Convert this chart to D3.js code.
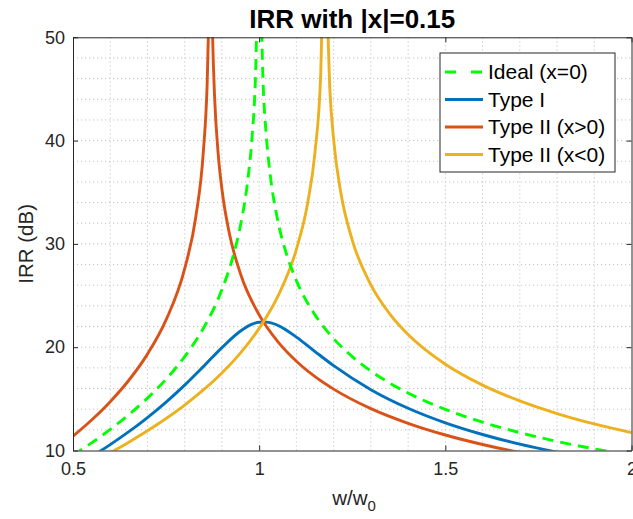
<!DOCTYPE html>
<html lang="en">
<head>
<meta charset="UTF-8">
<script src="https://cdn.jsdelivr.net/npm/d3@7"></script>
<title>IRR</title>
<style>
    body { margin: 0; background: #fff; }
    svg { font-family: "Liberation Sans", Arial, Helvetica, sans-serif; }
    .grid line { stroke: #c4c4c4; stroke-dasharray: 1.2, 2.8; stroke-width: 1; }
    .axis path, .axis line { stroke: #262626; }
    .axis text { fill: #262626; font-size: 18px; }
</style>
</head>
<body>
<script>
    // values (w/w0 -> IRR in dB)
    var wIdeal = [0.5, 0.55, 0.6, 0.65, 0.7, 0.75, 0.8, 0.85, 0.9, 0.93, 0.95, 0.97, 0.98, 0.99, 0.995,
        1.005, 1.01, 1.02, 1.03, 1.05, 1.07, 1.1, 1.15, 1.2, 1.25, 1.3, 1.35, 1.4, 1.5, 1.6, 1.7, 1.8, 1.9, 2.0];
    var irrIdeal = [9.54, 10.74, 12.04, 13.47, 15.07, 16.90, 19.09, 21.82, 25.58, 28.81, 31.82, 36.35, 39.91, 45.98, 52.02,
        52.06, 46.06, 40.09, 36.61, 32.26, 29.42, 26.44, 23.13, 20.83, 19.09, 17.69, 16.54, 15.56, 13.98, 12.74, 11.73, 10.88, 10.16, 9.54];

    var wType1 = [0.5, 0.55, 0.6, 0.65, 0.7, 0.75, 0.8, 0.85, 0.9, 0.95, 0.98, 1.0, 1.02, 1.05, 1.1, 1.15, 1.2, 1.3, 1.4, 1.5, 1.6, 1.7, 1.8];
    var irrType1 = [8.34, 9.42, 10.57, 11.82, 13.19, 14.69, 16.33, 18.12, 19.96, 21.57, 22.21, 22.42, 22.43, 22.12, 20.98, 19.58, 18.21, 15.89, 14.09, 12.68, 11.55, 10.61, 9.83];

    var wPos = [0.5, 0.55, 0.6, 0.65, 0.7, 0.75, 0.8, 0.83, 0.85, 0.86, 0.865,
        0.873, 0.875, 0.88, 0.89, 0.9, 0.92, 0.95, 1.0, 1.05, 1.1, 1.15, 1.2, 1.3, 1.4, 1.5, 1.6, 1.7, 1.8, 1.9, 2.0];
    var irrPos = [11.38, 12.95, 14.73, 16.80, 19.33, 22.64, 27.60, 32.66, 38.88, 45.15, 51.60,
        54.11, 50.13, 44.49, 38.70, 35.29, 31.00, 27.09, 23.13, 20.54, 18.64, 17.15, 15.94, 14.05, 12.63, 11.50, 10.58, 9.81, 9.16, 8.59, 8.09];

    var wNeg = [0.5, 0.55, 0.6, 0.65, 0.7, 0.75, 0.8, 0.85, 0.9, 0.95, 1.0, 1.05, 1.1, 1.13, 1.15, 1.165, 1.172,
        1.182, 1.19, 1.2, 1.22, 1.25, 1.3, 1.35, 1.4, 1.5, 1.6, 1.7, 1.8, 1.9, 2.0];
    var irrNeg = [7.88, 8.81, 9.78, 10.81, 11.91, 13.10, 14.40, 15.86, 17.51, 19.45, 21.82, 24.91, 29.48, 33.92, 38.88, 46.20, 54.41,
        52.60, 44.86, 40.09, 34.82, 30.37, 26.04, 23.26, 21.23, 18.35, 16.33, 14.80, 13.58, 12.57, 11.73];

    var seriesNames = ["Ideal (x=0)", "Type I", "Type II (x>0)", "Type II (x<0)"];
    var seriesColors = ["#00ff00", "#0072bd", "#d95319", "#edb120"];
    var xTicks = [0.5, 1, 1.5, 2];
    var yTicks = [10, 20, 30, 40, 50];

    var width = 633, height = 519;
    // plot box (note: "top" is taken by window.top, so prefixed names)
    var pLeft = 73, pRight = 631.5, pTop = 37.3, pBottom = 450.5;

    var svg = d3.select("body").append("svg").attr("width", width).attr("height", height);

    var x = d3.scaleLinear().domain([0.5, 2]).range([pLeft, pRight]);
    var y = d3.scaleLinear().domain([10, 50]).range([pBottom, pTop]);

    // dotted grid, major + minor
    var grid = svg.append("g").attr("class", "grid");
    grid.selectAll(".gx").data(d3.range(6, 20).map(function(d) { return d / 10; }))
        .enter().append("line")
        .attr("x1", function(d) { return x(d); }).attr("x2", function(d) { return x(d); })
        .attr("y1", pTop).attr("y2", pBottom);
    grid.selectAll(".gy").data(d3.range(12, 50, 2))
        .enter().append("line")
        .attr("y1", function(d) { return y(d); }).attr("y2", function(d) { return y(d); })
        .attr("x1", pLeft).attr("x2", pRight);

    svg.append("clipPath").attr("id", "clip").append("rect")
        .attr("x", pLeft).attr("y", pTop).attr("width", pRight - pLeft).attr("height", pBottom - pTop);

    var line = d3.line()
        .x(function(d) { return x(d[0]); })
        .y(function(d) { return y(d[1]); })
        .curve(d3.curveMonotoneX);

    var curves = [
        d3.zip(wIdeal, irrIdeal),
        d3.zip(wType1, irrType1),
        d3.zip(wPos, irrPos),
        d3.zip(wNeg, irrNeg)
    ];

    var plot = svg.append("g").attr("clip-path", "url(#clip)");
    // draw order: Type I, Type II, Type II, then ideal on top
    [1, 2, 3, 0].forEach(function(i) {
        plot.append("path")
            .datum(curves[i])
            .attr("fill", "none")
            .attr("stroke", seriesColors[i])
            .attr("stroke-width", 2.9)
            .attr("stroke-dasharray", i === 0 ? "11,7" : null)
            .attr("d", line);
    });

    // axes, ticks pointing inward
    svg.append("g").attr("class", "axis")
        .attr("transform", "translate(0," + pBottom + ")")
        .call(d3.axisBottom(x).tickValues(xTicks).tickFormat(d3.format("~g")).tickSizeInner(-5).tickSizeOuter(0).tickPadding(12));
    svg.append("g").attr("class", "axis")
        .attr("transform", "translate(" + pLeft + ",0)")
        .call(d3.axisLeft(y).tickValues(yTicks).tickSizeInner(-5).tickSizeOuter(0).tickPadding(8));
    svg.append("g").attr("class", "axis")
        .attr("transform", "translate(0," + pTop + ")")
        .call(d3.axisTop(x).tickValues(xTicks).tickFormat("").tickSizeInner(-5).tickSizeOuter(0));
    svg.append("g").attr("class", "axis")
        .attr("transform", "translate(" + pRight + ",0)")
        .call(d3.axisRight(y).tickValues(yTicks).tickFormat("").tickSizeInner(-5).tickSizeOuter(0));

    // title and labels
    svg.append("text")
        .attr("x", (pLeft + pRight) / 2).attr("y", 27.5)
        .attr("text-anchor", "middle")
        .attr("font-size", 26).attr("font-weight", "bold").attr("fill", "#000")
        .text("IRR with |x|=0.15");

    svg.append("text")
        .attr("transform", "translate(33," + ((pTop + pBottom) / 2) + ") rotate(-90)")
        .attr("text-anchor", "middle")
        .attr("font-size", 20.5).attr("fill", "#262626")
        .text("IRR (dB)");

    var xl = svg.append("text")
        .attr("x", 354).attr("y", 505)
        .attr("text-anchor", "middle")
        .attr("font-size", 20.5).attr("fill", "#262626");
    xl.append("tspan").text("w/w");
    xl.append("tspan").attr("dy", 6).attr("font-size", 15).text("0");

    // legend
    var lg = svg.append("g").attr("transform", "translate(440,53)");
    lg.append("rect")
        .attr("width", 175).attr("height", 119)
        .attr("fill", "#fff").attr("stroke", "#262626").attr("stroke-width", 1);
    seriesNames.forEach(function(name, i) {
        var yy = 19 + i * 27.5;
        lg.append("line")
            .attr("x1", 5).attr("x2", 43).attr("y1", yy).attr("y2", yy)
            .attr("stroke", seriesColors[i]).attr("stroke-width", 2.9)
            .attr("stroke-dasharray", i === 0 ? "11,15" : null);
        lg.append("text")
            .attr("x", 48).attr("y", yy).attr("dy", "0.35em")
            .attr("font-size", 21).attr("fill", "#000")
            .text(name);
    });
</script>
</body>
</html>
